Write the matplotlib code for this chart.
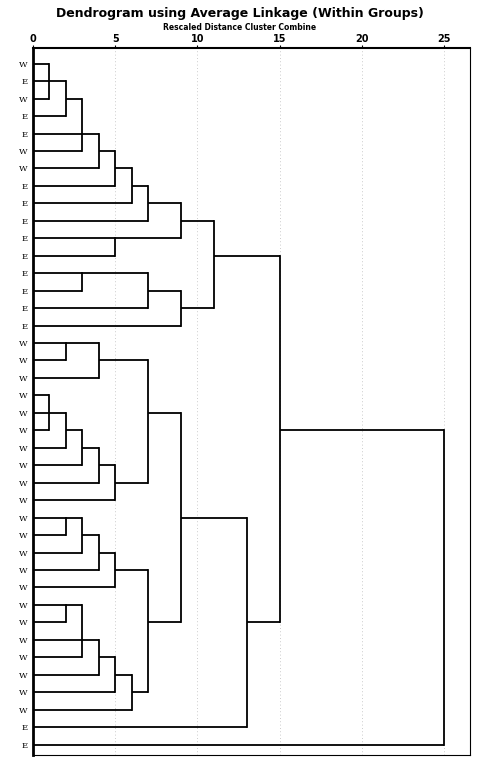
import matplotlib
matplotlib.use("Agg")
import matplotlib.pyplot as plt

labels = list("WEWEEWWEEEEEEEEE") + list("WWWWWWWWWWWWWWWWWWWWWW") + ["E", "E"]
ticks = [0, 5, 10, 15, 20, 25]
# merges: name, children, height, output row
merges = [
    ("A", ["L0", "L1", "L2"], 1, 1), ("B", ["A", "L3"], 2, 2),
    ("C", ["B", "L4", "L5"], 3, 4), ("D", ["C", "L6"], 4, 5),
    ("E", ["D", "L7"], 5, 6), ("F", ["E", "L8"], 6, 7),
    ("G", ["F", "L9"], 7, 8), ("H", ["L10", "L11"], 5, 10),
    ("I", ["G", "H"], 9, 9), ("J", ["L12", "L13"], 3, 12),
    ("K", ["J", "L14"], 7, 13), ("Lc", ["K", "L15"], 9, 14),
    ("M", ["I", "Lc"], 11, 11),
    ("N1", ["L16", "L17"], 2, 16), ("N2", ["N1", "L18"], 4, 17),
    ("N3", ["L19", "L20", "L21"], 1, 20), ("N4", ["N3", "L22"], 2, 21),
    ("N5", ["N4", "L23"], 3, 22), ("N6", ["N5", "L24"], 4, 23),
    ("N7", ["N6", "L25"], 5, 24), ("N8", ["N2", "N7"], 7, 20),
    ("P1", ["L26", "L27"], 2, 26), ("P2", ["P1", "L28"], 3, 27),
    ("P3", ["P2", "L29"], 4, 28), ("P4", ["P3", "L30"], 5, 29),
    ("Q1", ["L31", "L32"], 2, 31), ("Q2", ["Q1", "L33", "L34"], 3, 33),
    ("Q3", ["Q2", "L35"], 4, 34), ("Q4", ["Q3", "L36"], 5, 35),
    ("Q5", ["Q4", "L37"], 6, 36), ("R", ["P4", "Q5"], 7, 32),
    ("S", ["N8", "R"], 9, 26), ("T", ["S", "L38"], 13, 32),
    ("U", ["M", "T"], 15, 21), ("V", ["U", "L39"], 25, 30),
]

fig = plt.figure(figsize=(4.79, 7.67), dpi=100)
ax = fig.add_axes([33/479, 12/767, (470-33)/479, (755-48)/767])
xmax = 25 * (470-33) / (444-33)
ax.set_xlim(0, xmax)
ax.set_ylim(39.6, -0.9)

pos = {f"L{i}": (0.0, i) for i in range(len(labels))}
lw = 1.3
for name, ch, h, yout in merges:
    ys = []
    for c in ch:
        x0, y0 = pos[c]
        ax.plot([x0, h], [y0, y0], color="black", lw=lw, solid_capstyle="butt")
        ys.append(y0)
    ax.plot([h, h], [min(ys), max(ys)], color="black", lw=lw)
    pos[name] = (h, yout)

for t in ticks[1:]:
    ax.axvline(t, color="#bbbbbb", lw=0.6, ls=(0, (1, 3)), zorder=0)

ax.xaxis.tick_top()
ax.set_xticks(ticks)
ax.set_xticklabels([str(t) for t in ticks], fontsize=7, fontweight="bold")
ax.tick_params(axis="x", length=2, pad=1)
ax.set_yticks(range(len(labels)))
ax.set_yticklabels(labels, fontsize=6, family="DejaVu Serif")
ax.tick_params(axis="y", length=0, pad=4)
for s in ax.spines.values():
    s.set_linewidth(0.8)
ax.spines["left"].set_linewidth(2)
ax.spines["top"].set_linewidth(1.5)

fig.text(0.5, 1-13/767, "Dendrogram using Average Linkage (Within Groups)",
         ha="center", va="center", fontsize=9, fontweight="bold")
fig.text(0.5, 1-28/767, "Rescaled Distance Cluster Combine",
         ha="center", va="center", fontsize=5.5, fontweight="bold")
fig.savefig("out.png", dpi=100)
